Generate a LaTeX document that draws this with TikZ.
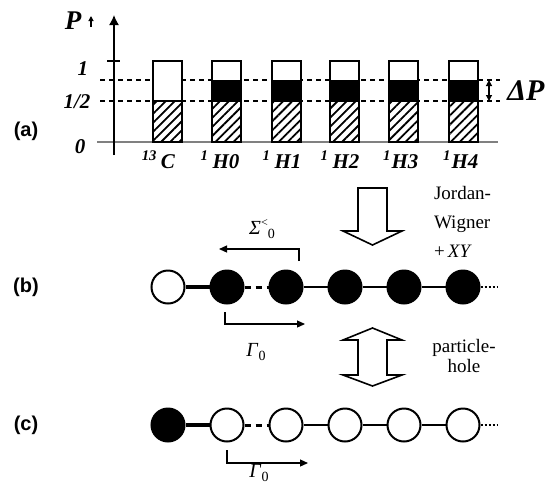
\documentclass[tikz,border=0pt]{standalone}
\usepackage{fontspec}
\setmainfont{Liberation Serif}
\setsansfont{Liberation Sans}
\usetikzlibrary{arrows.meta,patterns.meta}

\tikzset{
	site/.style={circle,draw,line width=1pt,minimum size=16.5pt,inner sep=0pt},
	full/.style={site,fill=black},
	empty/.style={site,fill=white},
	panel/.style={font=\fontsize{10}{12}\selectfont\sffamily\bfseries},
	bi/.style={font=\fontsize{10.5}{12}\selectfont\bfseries\itshape},
	tx/.style={font=\fontsize{9.5}{14.5}\selectfont},
	gr/.style={font=\fontsize{10}{12}\selectfont},
	big/.style={draw,line width=0.8pt,fill=white},
	tip/.style={-{Triangle[length=4pt,width=3.5pt]}},
}
\newcommand{\subz}{\raisebox{-0.45ex}{\fontsize{7}{8}\selectfont 0}}

\begin{document}
\begin{tikzpicture}[x=0.5pt,y=-0.5pt]
	\useasboundingbox (0,0) rectangle (547,484);
	
	\draw[gray,line width=0.6pt] (97,142) -- (498,142);
	\draw[line width=0.7pt,-{Latex[length=5pt,width=5pt]}] (114,155) -- (114,15);
	\draw[line width=0.6pt] (107,61) -- (120,61);
	\draw[line width=0.6pt,dash pattern=on 2.5pt off 2pt] (100,80) -- (500,80);
	\draw[line width=0.6pt,dash pattern=on 2.5pt off 2pt] (100,101) -- (500,101);
	
	\foreach \xl in {153,212,272,330,389,449} {
		\fill[white] (\xl,61) rectangle ++(29,81);
		\fill[pattern={Lines[angle=45,distance=3.2pt,line width=0.9pt]}] (\xl,101) rectangle ++(29,41);
		\draw[line width=1pt] (\xl,101) rectangle ++(29,41);
	}
	\foreach \xl in {212,272,330,389,449} {
		\fill[black] (\xl,80) rectangle ++(29,21);
	}
	\foreach \xl in {153,212,272,330,389,449} {
		\draw[line width=1.1pt] (\xl,61) rectangle ++(29,81);
	}
	
	\node[font=\fontsize{13.5}{14}\selectfont\bfseries\itshape] (pl) at (73,21) {P};
	\draw[line width=0.6pt,-{Triangle[length=2.5pt,width=2.5pt]}] (91,27) -- (91,16);
	\node[bi] (one) at (83,69) {1};
	\node[bi] (half) at (77,102) {1/2};
	\node[bi] (zero) at (80,147) {0};
	\node[panel] (pa) at (26,131) {(a)};
	
	\node[bi,anchor=base] (c13) at (168,168) {\llap{\textsuperscript{13}\,}C};
	\node[bi,anchor=base] (h0) at (226,168) {\llap{\textsuperscript{1}\,}H0};
	\node[bi,anchor=base] (h1) at (288,168) {\llap{\textsuperscript{1}\,}H1};
	\node[bi,anchor=base] (h2) at (346,168) {\llap{\textsuperscript{1}\,}H2};
	\node[bi,anchor=base] (h3) at (405,168) {\llap{\textsuperscript{1}}H3};
	\node[bi,anchor=base] (h4) at (465,168) {\llap{\textsuperscript{1}}H4};
	
	\coordinate (dpa) at (489,80);
	\coordinate (dpb) at (489,101);
	\draw[line width=0.6pt,{Triangle[length=3pt,width=3pt]}-{Triangle[length=3pt,width=3pt]}] (dpa) -- (dpb);
	\node[font=\fontsize{15}{16}\selectfont\bfseries\itshape] (dp) at (526,91) {ΔP};
	
	\draw[big] (358,188) -- (387,188) -- (387,231) -- (402,231) -- (372.5,245) -- (343,231) -- (358,231) -- cycle;
	\node[tx,anchor=west,align=left] (jw) at (427,222) {Jordan-\\Wigner\\+\,\textit{XY}};
	
	\node[panel] (pb) at (26,287) {(b)};
	\node[empty] (b0) at (168,287) {};
	\node[full] (b1) at (227,287) {};
	\node[full] (b2) at (286,287) {};
	\node[full] (b3) at (345,287) {};
	\node[full] (b4) at (404,287) {};
	\node[full] (b5) at (463,287) {};
	\coordinate (bend) at (498,287);
	\draw[line width=1.6pt] (b0) -- (b1);
	\draw[line width=1.5pt,dash pattern=on 3pt off 2.5pt] (b1) -- (b2);
	\draw[line width=0.6pt] (b2) -- (b3) -- (b4) -- (b5);
	\draw[line width=1pt,dash pattern=on 1pt off 1pt] (b5) -- (bend);
	
	\coordinate (sga) at (299,261);
	\coordinate (sgb) at (219,249);
	\draw[line width=0.6pt,tip] (sga) |- (sgb);
	\node[gr] (sig) at (262,229) {\textit{Σ}\raisebox{0.9ex}{\fontsize{6}{7}\selectfont <}\subz};
	
	\coordinate (gba) at (225,312);
	\coordinate (gbb) at (305,324);
	\draw[line width=0.6pt,tip] (gba) |- (gbb);
	\node[gr] (gmb) at (256,352) {\textit{Γ}\subz};
	
	\draw[big] (372.5,328) -- (402,340) -- (387,340) -- (387,375) -- (402,375) -- (372.5,386) -- (343,375) -- (358,375) -- (358,340) -- (343,340) -- cycle;
	\node[align=center,font=\fontsize{9.5}{10}\selectfont] (ph) at (464,356) {particle-\\hole};
	
	\node[panel] (pc) at (26,425) {(c)};
	\node[full] (c0) at (168,425) {};
	\node[empty] (c1) at (227,425) {};
	\node[empty] (c2) at (286,425) {};
	\node[empty] (c3) at (345,425) {};
	\node[empty] (c4) at (404,425) {};
	\node[empty] (c5) at (463,425) {};
	\coordinate (cend) at (498,425);
	\draw[line width=1.6pt] (c0) -- (c1);
	\draw[line width=1.5pt,dash pattern=on 3pt off 2.5pt] (c1) -- (c2);
	\draw[line width=0.6pt] (c2) -- (c3) -- (c4) -- (c5);
	\draw[line width=1pt,dash pattern=on 1pt off 1pt] (c5) -- (cend);
	
	\coordinate (gca) at (227,450);
	\coordinate (gcb) at (308,463);
	\draw[line width=0.6pt,tip] (gca) |- (gcb);
	\node[gr,anchor=south,inner sep=1pt] (gmc) at (259,484) {\textit{Γ}\subz};
\end{tikzpicture}
\end{document}
